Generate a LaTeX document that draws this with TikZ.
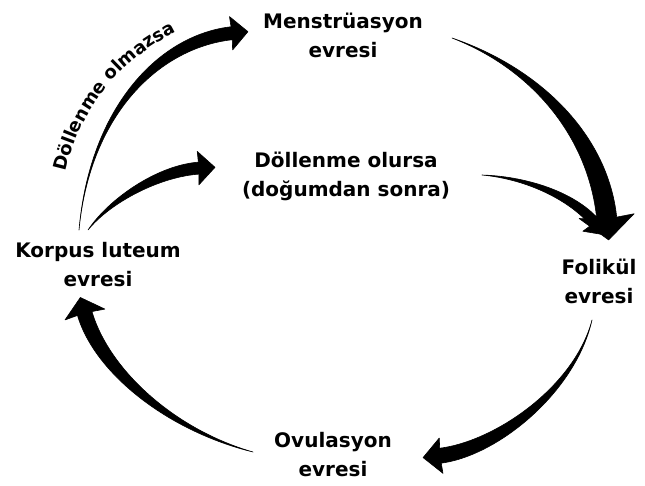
\documentclass[tikz,border=0pt]{standalone}
\usepackage{fontspec}
\setmainfont{DejaVu Sans}
\usetikzlibrary{calc,decorations.text}
\tikzset{
  arrowfill/.style={fill=black, draw=black, line width=0.6pt, line join=round},
  stage/.style={font=\bfseries\fontsize{20}{29}\selectfont, align=center, inner sep=0pt},
}
% #1 tail, #2 ctrl1, #3 ctrl2, #4 head base, #5 body half width, #6 head half width, #7 head length (pt)
\newcommand\taperarrow[7]{%
  \path ($(#4)!#5pt!90:(#3)$) coordinate (tpL) ($(#4)!#5pt!-90:(#3)$) coordinate (tpR);
  \filldraw[arrowfill] (#1) .. controls ($(#2)+0.45*(tpL)-0.45*(#4)$) and ($(#3)+(tpL)-(#4)$) .. (tpL) -- (tpR)
     .. controls ($(#3)+(tpR)-(#4)$) and ($(#2)+0.45*(tpR)-0.45*(#4)$) .. (#1) -- cycle;
  \filldraw[arrowfill] ($(#4)!-#7pt!(#3)$) -- ($(#4)!#6pt!80:(#3)$) -- ($(#4)!2pt!(#3)$)
     -- ($(#4)!#6pt!-80:(#3)$) -- cycle;
}
\begin{document}
\begin{tikzpicture}[x=1pt,y=-1pt]
\useasboundingbox[fill=white] (0,0) rectangle (645,486);

% stage labels
\node[stage] (mens) at (343,35) {Menstrüasyon\\evresi};
\node[stage] (doll) at (346,176) {Döllenme olursa\\(doğumdan sonra)};
\node[stage] (korp) at (98,265) {Korpus luteum\\evresi};
\node[stage] (foli) at (599,281) {Folikül\\evresi};
\node[stage] (ovul) at (333,455) {Ovulasyon\\evresi};

% arrow 1: Korpus -> Menstruasyon
\coordinate (a1t) at (79,230);  \coordinate (a1c) at (90,110);
\coordinate (a1d) at (160,40);  \coordinate (a1e) at (234,33);
\taperarrow{a1t}{a1c}{a1d}{a1e}{6.5}{17}{14}

% arrow 2: Korpus -> Dollenme olursa
\coordinate (a2t) at (88,230);  \coordinate (a2c) at (110,200);
\coordinate (a2d) at (160,170); \coordinate (a2e) at (201,168);
\taperarrow{a2t}{a2c}{a2d}{a2e}{6}{17}{14}

% arrow 4: Dollenme olursa -> Folikul
\coordinate (a4t) at (482,175); \coordinate (a4c) at (530,178);
\coordinate (a4d) at (575,198); \coordinate (a4e) at (596,224);
\taperarrow{a4t}{a4c}{a4d}{a4e}{5}{15}{14}

% arrow 3: Menstruasyon -> Folikul
\coordinate (a3t) at (452,38);  \coordinate (a3c) at (540,70);
\coordinate (a3d) at (600,140); \coordinate (a3e) at (607,221);
\taperarrow{a3t}{a3c}{a3d}{a3e}{10}{28}{19}

% arrow 5: Folikul -> Ovulasyon
\coordinate (a5t) at (592,320); \coordinate (a5c) at (575,390);
\coordinate (a5d) at (495,450); \coordinate (a5e) at (438,456);
\taperarrow{a5t}{a5c}{a5d}{a5e}{7.5}{18}{15}

% arrow 6: Ovulasyon -> Korpus
\coordinate (a6t) at (253,452); \coordinate (a6c) at (170,430);
\coordinate (a6d) at (100,370); \coordinate (a6e) at (84,311);
\taperarrow{a6t}{a6c}{a6d}{a6e}{7.5}{21}{14}

% curved label
\coordinate (l1) at (66,172); \coordinate (l2) at (82,100);
\coordinate (l3) at (130,48); \coordinate (l4) at (200,22);
\path[decorate, decoration={text along path, text align=left,
  text={|\bfseries\fontsize{18}{20}\selectfont|Döllenme olmazsa}}]
  (l1) .. controls (l2) and (l3) .. (l4);
\end{tikzpicture}
\end{document}
